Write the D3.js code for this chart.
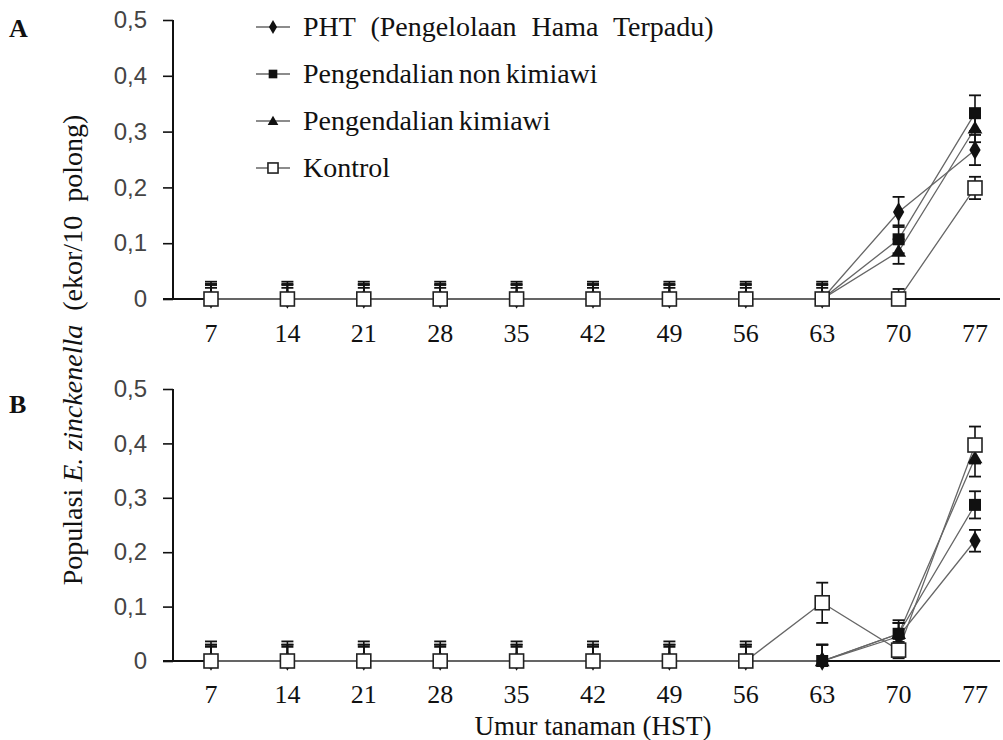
<!DOCTYPE html>
<html><head><meta charset="utf-8">
<script src="https://cdn.jsdelivr.net/npm/d3@7"></script>
<style>body{margin:0;background:#fff}svg{display:block}text{font-family:"Liberation Serif","Times New Roman",serif;fill:#111}</style>
</head><body>
<svg id="c" width="1003" height="740"></svg>
<script>
const days = [7,14,21,28,35,42,49,56,63,70,77];
const yTicks = [0,0.1,0.2,0.3,0.4,0.5];
const yTickLabels = ["0","0,1","0,2","0,3","0,4","0,5"];
const seriesNames = ["PHT (Pengelolaan Hama Terpadu)","Pengendalian non kimiawi","Pengendalian kimiawi","Kontrol"];
const symbols = ["diamond","filledSquare","triangle","openSquare"];
// Panel A
const A_pht  = [0,0,0,0,0,0,0,0,0,0.156,0.267];
const A_non  = [0,0,0,0,0,0,0,0,0,0.107,0.333];
const A_kim  = [0,0,0,0,0,0,0,0,0,0.085,0.306];
const A_kon  = [0,0,0,0,0,0,0,0,0,0,0.199];
const A_pht_e = [0.027,0.027,0.027,0.027,0.027,0.027,0.027,0.027,0.027,0.027,0.027];
const A_non_e = [0.031,0.031,0.031,0.031,0.031,0.031,0.031,0.031,0.031,0.025,0.032];
const A_kim_e = [0.025,0.025,0.025,0.025,0.025,0.025,0.025,0.025,0.025,0.022,0.025];
const A_kon_e = [0.02,0.02,0.02,0.02,0.02,0.02,0.02,0.02,0.02,0.018,0.02];
// Panel B
const B_pht  = [0,0,0,0,0,0,0,0,0,0.045,0.221];
const B_non  = [0,0,0,0,0,0,0,0,0,0.05,0.287];
const B_kim  = [0,0,0,0,0,0,0,0,0,0.05,0.373];
const B_kon  = [0,0,0,0,0,0,0,0,0.107,0.02,0.397];
const B_pht_e = [0.03,0.03,0.03,0.03,0.03,0.03,0.03,0.03,0.03,0.025,0.02];
const B_non_e = [0.036,0.036,0.036,0.036,0.036,0.036,0.036,0.036,0.03,0.025,0.025];
const B_kim_e = [0.03,0.03,0.03,0.03,0.03,0.03,0.03,0.03,0.03,0.02,0.034];
const B_kon_e = [0.026,0.026,0.026,0.026,0.026,0.026,0.026,0.026,0.037,0.015,0.034];

const panels = [
  {letter:"A", vals:[A_pht,A_non,A_kim,A_kon], errs:[A_pht_e,A_non_e,A_kim_e,A_kon_e], yr:[299,20], letterY:37, tickY:342},
  {letter:"B", vals:[B_pht,B_non,B_kim,B_kon], errs:[B_pht_e,B_non_e,B_kim_e,B_kon_e], yr:[661,389], letterY:413, tickY:703}
];

const svg = d3.select("#c");
const x = d3.scalePoint().domain(days).range([211,975]);
const axisX0 = 163, axisX1 = 1000, yAxisX = 173;

function drawMarker(g, sym, cx, cy, s){
  s = s || 1;
  if(sym==="diamond"){
    g.append("path").attr("d", d3.symbol(d3.symbolDiamond, 110*s*s)()).attr("transform",`translate(${cx},${cy})`).attr("fill","#111");
  } else if(sym==="filledSquare"){
    const h = 6*s;
    g.append("rect").attr("x",cx-h).attr("y",cy-h).attr("width",2*h).attr("height",2*h).attr("fill","#111");
  } else if(sym==="triangle"){
    g.append("path").attr("d", d3.symbol(d3.symbolTriangle, 95*s*s)()).attr("transform",`translate(${cx},${cy+1})`).attr("fill","#111");
  } else {
    const h = 7*s;
    g.append("rect").attr("x",cx-h).attr("y",cy-h).attr("width",2*h).attr("height",2*h).attr("fill","#fff").attr("stroke","#222").attr("stroke-width",1.6);
  }
}

panels.forEach(p=>{
  const y = d3.scaleLinear().domain([0,0.5]).range(p.yr);
  const g = svg.append("g");
  const ya = d3.axisLeft(y).tickValues(yTicks).tickFormat((d,i)=>yTickLabels[i]).tickSize(10).tickPadding(16);
  const yg = g.append("g").attr("transform",`translate(${yAxisX},0)`).call(ya);
  yg.select(".domain").attr("stroke","#111").attr("stroke-width",2).attr("d",`M0,${p.yr[0]}V${p.yr[1]}`);
  yg.selectAll(".tick line").attr("stroke","#111").attr("stroke-width",1.6);
  yg.selectAll(".tick text").style("font-family","'Liberation Sans', Arial, sans-serif").style("font-size","24px").style("fill","#444");
  g.append("line").attr("x1",axisX0).attr("x2",axisX1).attr("y1",y(0)).attr("y2",y(0)).attr("stroke","#111").attr("stroke-width",2);
  g.selectAll(".xl").data(days).enter().append("text").attr("x",d=>x(d)).attr("y",p.tickY)
    .attr("text-anchor","middle").attr("font-size",26).text(d=>d);
  g.append("text").attr("x",9).attr("y",p.letterY).attr("font-size",26).attr("font-weight","bold").text(p.letter);
  p.vals.forEach((v,si)=>{
    const line = d3.line().x((d,i)=>x(days[i])).y(d=>y(d));
    g.append("path").attr("d",line(v)).attr("fill","none").attr("stroke","#666").attr("stroke-width",1.3);
  });
  p.vals.forEach((v,si)=>{
    v.forEach((d,i)=>{
      const e = p.errs[si][i];
      const cx = x(days[i]);
      const top = y(d+e), bot = y(Math.max(0,d-e));
      g.append("line").attr("x1",cx).attr("x2",cx).attr("y1",top).attr("y2",bot).attr("stroke","#111").attr("stroke-width",1.6);
      g.append("line").attr("x1",cx-6).attr("x2",cx+6).attr("y1",top).attr("y2",top).attr("stroke","#111").attr("stroke-width",1.8);
      if(d-e>0) g.append("line").attr("x1",cx-6).attr("x2",cx+6).attr("y1",bot).attr("y2",bot).attr("stroke","#111").attr("stroke-width",1.8);
    });
  });
  p.vals.forEach((v,si)=>{
    v.forEach((d,i)=>drawMarker(g, symbols[si], x(days[i]), y(d)));
  });
});

// Legend
const legY = [27,74,121,168];
const lg = svg.append("g");
seriesNames.forEach((n,i)=>{
  lg.append("line").attr("x1",256).attr("x2",290).attr("y1",legY[i]).attr("y2",legY[i]).attr("stroke","#666").attr("stroke-width",1.3);
  drawMarker(lg, symbols[i], 273, legY[i], 0.72);
  lg.append("text").attr("x",303).attr("y",legY[i]+9).attr("font-size",28)
    .style("word-spacing", i===0 ? "8px" : "-2px").text(n);
});

// Y axis title
const yt = svg.append("text").attr("transform","translate(82,350) rotate(-90)").attr("text-anchor","middle").attr("font-size",28);
yt.append("tspan").text("Populasi ");
yt.append("tspan").attr("font-style","italic").text("E. zinckenella");
yt.append("tspan").attr("xml:space","preserve").text("  (ekor/10  polong)");

// X axis title
svg.append("text").attr("x",593).attr("y",735).attr("text-anchor","middle").attr("font-size",27).text("Umur tanaman (HST)");
</script>
</body></html>
